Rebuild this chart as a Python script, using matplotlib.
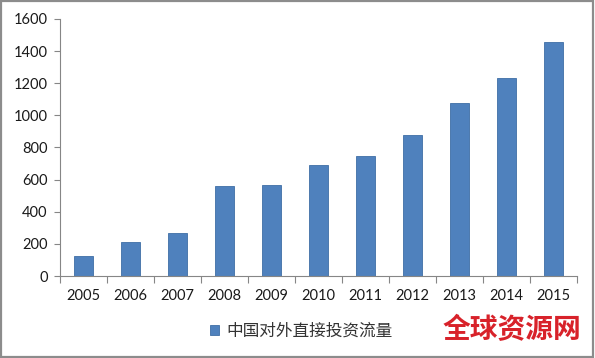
import numpy as np
import matplotlib
matplotlib.use('Agg')
import matplotlib.pyplot as plt
from matplotlib.patches import Rectangle

plt.rcParams['font.family'] = ['Lato', 'Noto Sans CJK SC', 'DejaVu Sans']

# 数据
years = ['2005', '2006', '2007', '2008', '2009', '2010',
         '2011', '2012', '2013', '2014', '2015']
flows = [122.6, 211.6, 265.1, 559.1, 565.3, 688.1,
         746.5, 878.0, 1078.4, 1231.2, 1456.7]
series_name = '中国对外直接投资流量'
watermark = '全球资源网'

bar_color = '#4F81BD'
axis_color = '#868686'

fig = plt.figure(figsize=(5.95, 3.58), dpi=100)
ax = fig.add_axes([60 / 595, 1 - 276 / 358, 517 / 595, 257 / 358])

x = np.arange(len(years))
ax.bar(x, flows, width=0.4, color=bar_color, edgecolor='#3F6EA5',
       linewidth=0.6, label=series_name)

ax.set_xlim(-0.5, len(years) - 0.5)
ax.set_ylim(0, 1600)
ax.set_yticks(range(0, 1601, 200))
ax.set_xticks(x)
ax.set_xticklabels(years)
ax.set_xticks(np.arange(-0.5, len(years)), minor=True)

for side in ['top', 'right']:
    ax.spines[side].set_visible(False)
for side in ['left', 'bottom']:
    ax.spines[side].set_color(axis_color)
    ax.spines[side].set_linewidth(0.8)

ax.tick_params(axis='x', which='major', length=0, pad=9, labelsize=10.5, colors='#1a1a1a')
ax.tick_params(axis='x', which='minor', length=5, color=axis_color, width=0.8)
ax.tick_params(axis='y', length=4, color=axis_color, width=0.8, labelsize=10.5,
               labelcolor='#1a1a1a', pad=5)

# 图例
leg = fig.legend(loc='center', bbox_to_anchor=(301 / 595, 1 - 331 / 358),
                 frameon=False, handlelength=0.55, handleheight=0.55,
                 handletextpad=0.45, fontsize=12)
for t in leg.get_texts():
    t.set_color('#333333')

# 水印
fig.text(512 / 595, 1 - 330 / 358, watermark, color='#D8222A', fontsize=20,
         fontweight='heavy', ha='center', va='center', family=['Noto Sans CJK SC'])

# 外框
fig.patches.append(Rectangle((0.002, 0.003), 0.995, 0.994, transform=fig.transFigure,
                             fill=False, edgecolor='#8C8C8C', linewidth=1.6))

fig.savefig('out.png', dpi=100)
